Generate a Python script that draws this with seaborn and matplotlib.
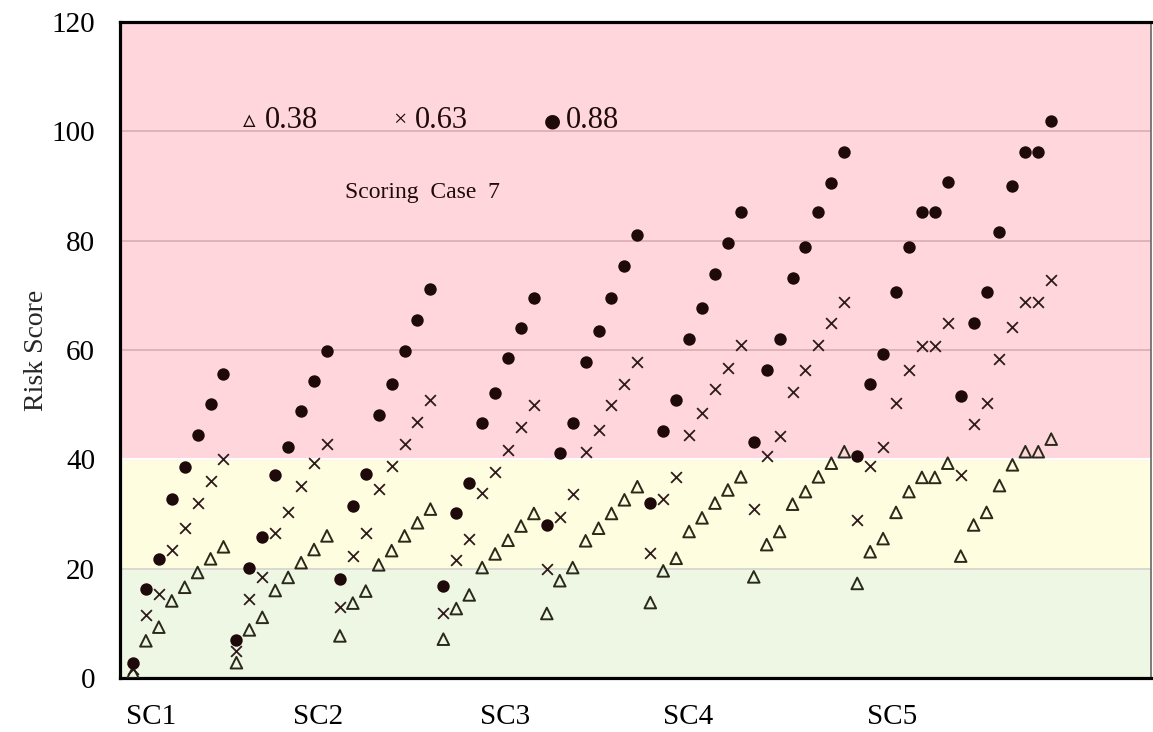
import numpy as np
import pandas as pd
import matplotlib
matplotlib.use("Agg")
import matplotlib.pyplot as plt
import seaborn as sns

# Risk scores per case, 9 groups of 8 cases each
risk_038 = [1.0, 6.8, 9.3, 14.1, 16.6, 19.3, 21.8, 24.0,
            2.8, 8.8, 11.1, 16.0, 18.4, 21.1, 23.5, 26.0,
            7.7, 13.7, 15.9, 20.7, 23.3, 26.0, 28.4, 30.9,
            7.1, 12.7, 15.2, 20.2, 22.7, 25.2, 27.8, 30.1,
            11.8, 17.8, 20.2, 25.1, 27.4, 30.1, 32.6, 35.0,
            13.8, 19.6, 21.9, 26.8, 29.3, 32.0, 34.4, 36.8,
            18.5, 24.4, 26.8, 31.8, 34.1, 36.8, 39.3, 41.4,
            17.3, 23.1, 25.5, 30.3, 34.1, 36.7, 36.7, 39.3,
            22.3, 28.0, 30.3, 35.2, 39.0, 41.4, 41.4, 43.7]
risk_063 = [1.7, 11.5, 15.4, 23.4, 27.4, 32.1, 36.1, 40.1,
            4.9, 14.5, 18.4, 26.5, 30.4, 35.2, 39.4, 42.9,
            12.9, 22.4, 26.5, 34.6, 38.7, 42.9, 46.9, 50.9,
            11.9, 21.5, 25.5, 33.8, 37.6, 41.8, 45.9, 49.9,
            19.9, 29.5, 33.7, 41.4, 45.4, 49.9, 53.8, 57.9,
            22.9, 32.7, 36.7, 44.4, 48.4, 52.9, 56.8, 60.9,
            31.0, 40.6, 44.3, 52.4, 56.3, 60.9, 64.9, 68.8,
            28.9, 38.7, 42.3, 50.4, 56.3, 60.8, 60.8, 64.9,
            37.1, 46.5, 50.4, 58.4, 64.3, 68.8, 68.8, 72.8]
risk_088 = [2.8, 16.2, 21.7, 32.7, 38.6, 44.5, 50.2, 55.7,
            7.0, 20.2, 25.8, 37.2, 42.3, 48.8, 54.4, 59.9,
            18.1, 31.5, 37.3, 48.1, 53.7, 59.9, 65.5, 71.2,
            16.8, 30.2, 35.7, 46.7, 52.2, 58.6, 64.1, 69.6,
            28.0, 41.1, 46.7, 57.9, 63.5, 69.6, 75.4, 81.0,
            32.1, 45.2, 50.9, 62.0, 67.7, 74.0, 79.5, 85.2,
            43.2, 56.3, 62.0, 73.2, 78.9, 85.2, 90.6, 96.3,
            40.6, 53.7, 59.2, 70.6, 78.9, 85.2, 85.2, 90.7,
            51.6, 64.9, 70.6, 81.6, 90.0, 96.3, 96.3, 101.9]

sc_labels = ["SC1", "SC2", "SC3", "SC4", "SC5"]
sc_ticks = [1.4, 14.3, 28.8, 42.9, 58.7]

case_idx = np.arange(len(risk_088))
df = pd.DataFrame({"case": case_idx, "r038": risk_038,
                   "r063": risk_063, "r088": risk_088})

sns.set_theme(style="white")
plt.rcParams["font.family"] = ["Liberation Serif", "DejaVu Sans"]

fig = plt.figure(figsize=(11.53, 7.32), dpi=100)
ax = fig.add_axes([0.1041, 0.0738, 0.894, 0.896])

# risk bands
ax.axhspan(0, 20, color="#eef7e3", zorder=0)
ax.axhspan(20, 40, color="#fffde0", zorder=0)
ax.axhspan(40, 120, color="#ffd6dc", zorder=0)
ax.axhline(20, color="#d2d2d2", lw=1.2, zorder=1)
ax.axhline(40, color="white", lw=1.5, zorder=1)
for g in [60, 80, 100]:
    ax.axhline(g, color="#d9aeb3", lw=1.2, zorder=1)

ink = "#1e0a0a"
sns.scatterplot(data=df, x="case", y="r038", marker="^", s=70,
                fc="none", edgecolor="#2a2a1a", linewidth=1.4, ax=ax, zorder=3)
sns.scatterplot(data=df, x="case", y="r063", marker="x", s=60,
                color="#2e1c1c", linewidth=1.3, ax=ax, zorder=3)
sns.scatterplot(data=df, x="case", y="r088", marker="o", s=80,
                color=ink, edgecolor=ink, linewidth=0, ax=ax, zorder=4)

ax.set_xlim(-1.0, 78.7)
ax.set_ylim(0, 120)
ax.set_yticks(range(0, 121, 20))
ax.set_xticks(sc_ticks)
ax.set_xticklabels(sc_labels)
ax.tick_params(axis="both", length=0, labelsize=21, colors="black")
ax.tick_params(axis="y", pad=18)
ax.tick_params(axis="x", pad=19)
ax.set_xlabel("")
ax.set_ylabel("Risk Score", fontsize=20, labelpad=2)

for side in ["left", "bottom", "top"]:
    ax.spines[side].set_color("black")
    ax.spines[side].set_linewidth(2.3)
ax.spines["right"].set_color("#666666")
ax.spines["right"].set_linewidth(1.2)

# in-plot legend and case label
ax.text(9.0, 102, "\u25b5", fontsize=18, ha="center", va="center",
        color=ink, family=["DejaVu Sans"])
ax.text(10.2, 102, "0.38", fontsize=22, ha="left", va="center", color=ink)
ax.text(20.6, 102, "\u00d7", fontsize=17, ha="center", va="center", color=ink)
ax.text(21.8, 102, "0.63", fontsize=22, ha="left", va="center", color=ink)
ax.text(32.4, 102, "\u25cf", fontsize=14, ha="center", va="center",
        color=ink, family=["DejaVu Sans"])
ax.text(33.5, 102, "0.88", fontsize=22, ha="left", va="center", color=ink)
ax.text(22.4, 88.9, "Scoring  Case  7", fontsize=17, ha="center",
        va="center", color=ink)

fig.savefig("out.png", dpi=100)
